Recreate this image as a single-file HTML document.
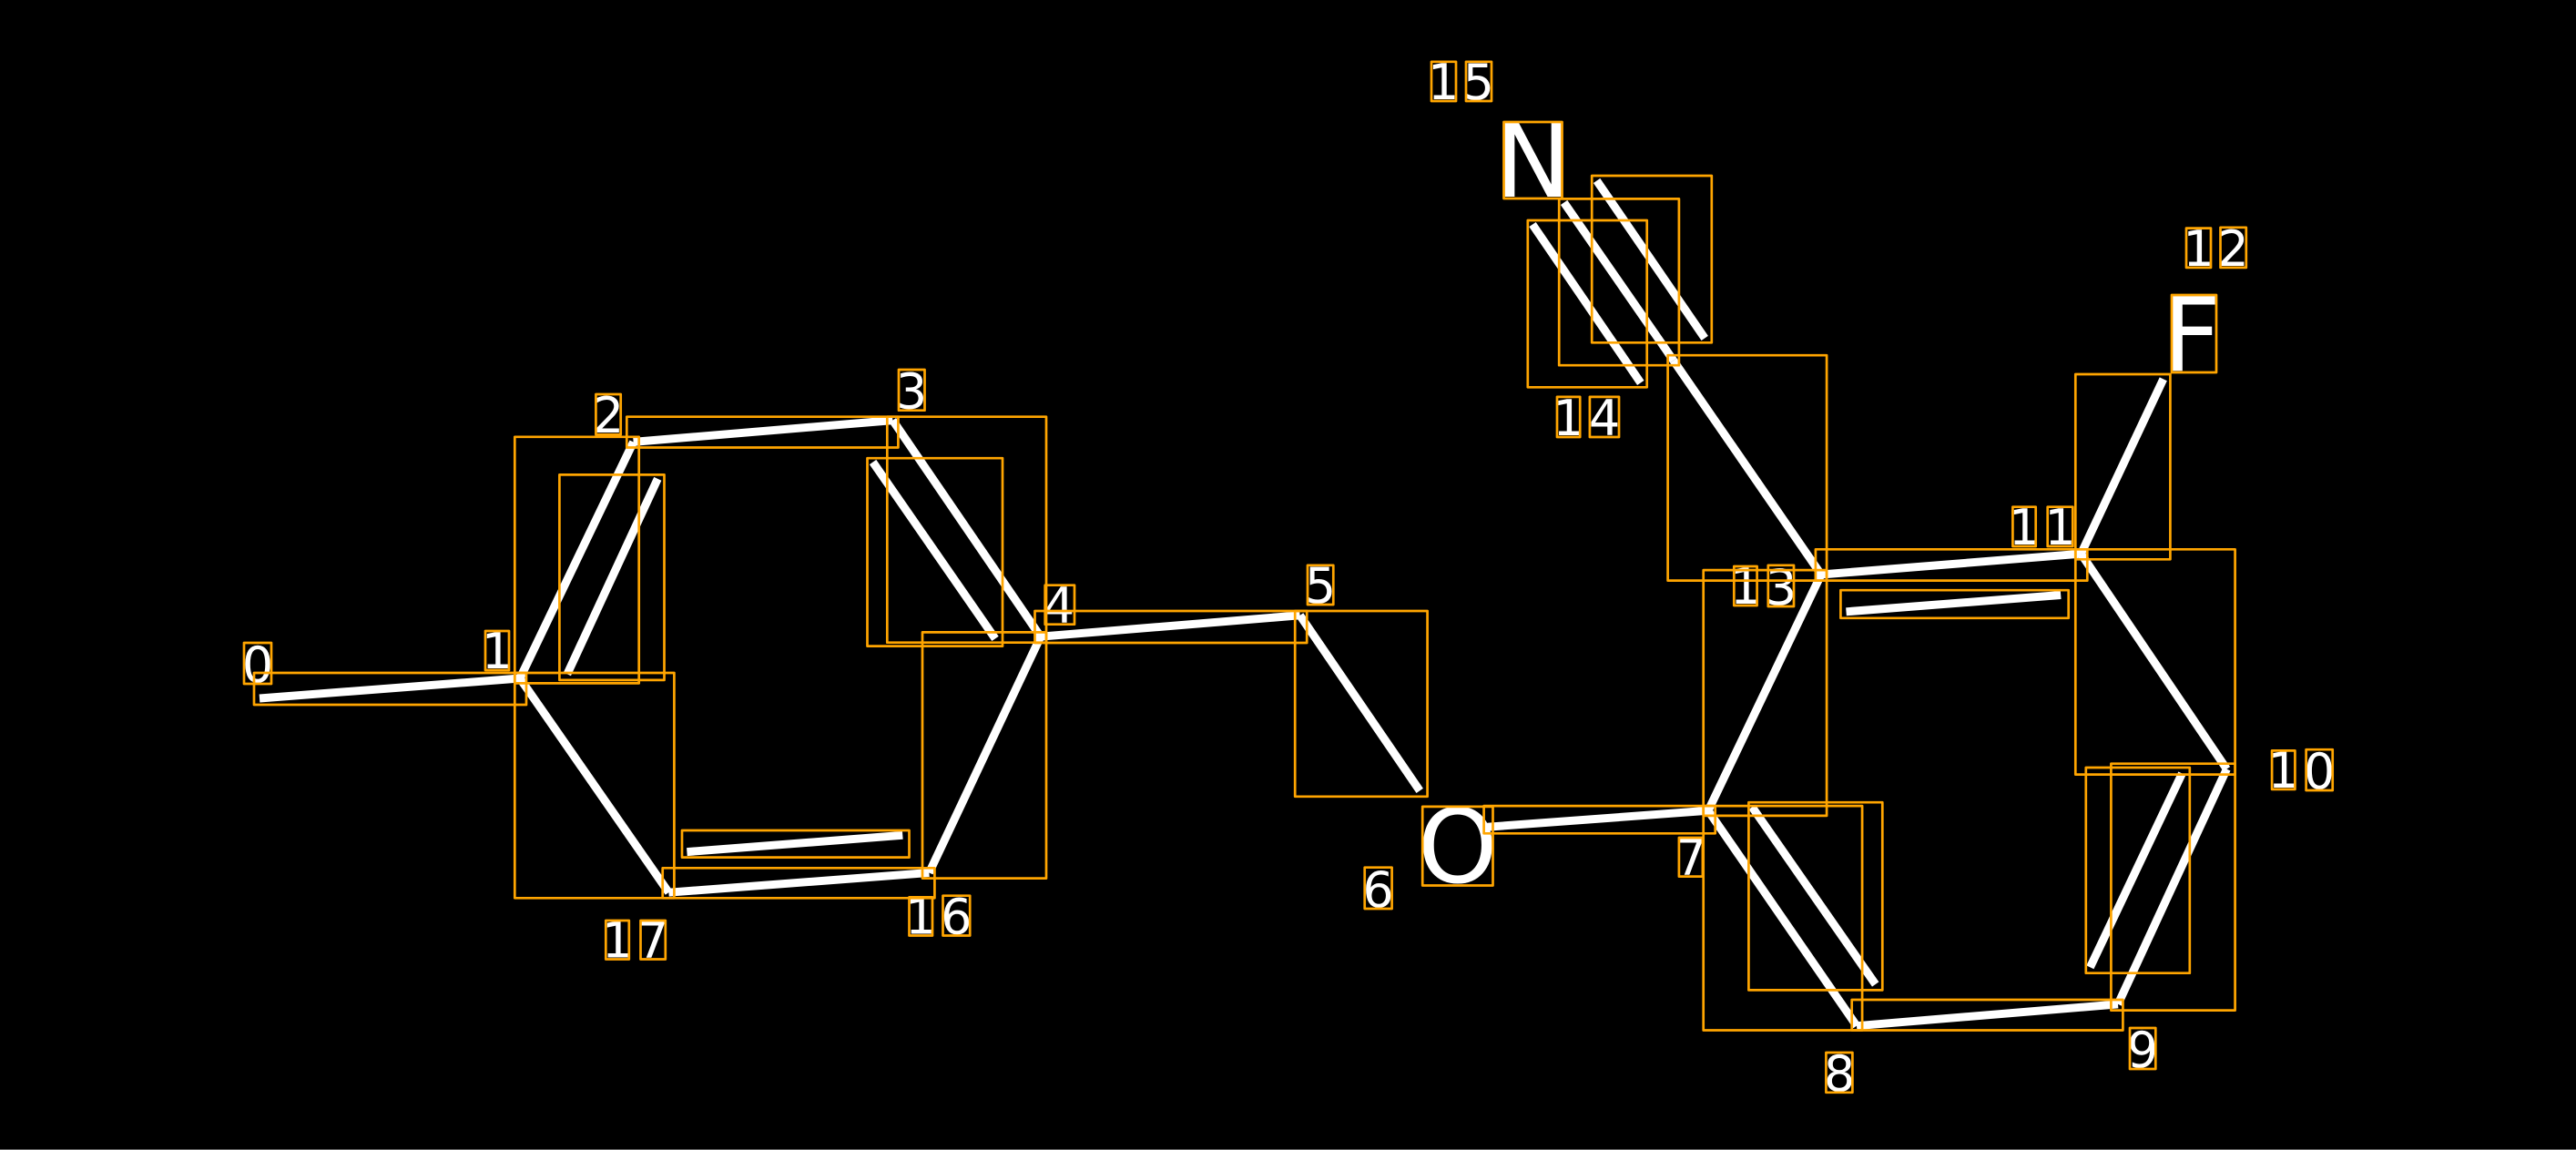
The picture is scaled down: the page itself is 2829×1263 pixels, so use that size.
<!DOCTYPE html>
<html><head><meta charset="utf-8"><style>
html,body{margin:0;padding:0;background:#000;width:2829px;height:1263px;overflow:hidden}
svg{display:block}
text{font-family:"DejaVu Sans","Liberation Sans",sans-serif;fill:#fff;text-anchor:middle}
.d{font-size:54px}.a{font-size:112px}
.b line{stroke:#fff;stroke-width:9;stroke-linecap:butt}
.r rect{fill:none;stroke:#FFA500;stroke-width:2.7;stroke-linejoin:round}
</style></head><body>
<svg xmlns="http://www.w3.org/2000/svg" width="2829" height="1263" viewBox="0 0 2829 1263">
<rect width="2829" height="1263" fill="#000"/>
<g class="b">
<line x1="285" y1="767" x2="571" y2="745"/>
<line x1="571" y1="745" x2="695.6" y2="485.4"/>
<line x1="622.9" y1="740.4" x2="722.3" y2="525.8"/>
<line x1="695.6" y1="485.4" x2="980.4" y2="461.6"/>
<line x1="980.4" y1="461.6" x2="1142.8" y2="699.2"/>
<line x1="958.6" y1="507.5" x2="1093" y2="701.4"/>
<line x1="1142.8" y1="699.2" x2="1020.4" y2="958.5"/>
<line x1="1020.4" y1="958.5" x2="734.4" y2="980.2"/>
<line x1="734.4" y1="980.2" x2="571" y2="745"/>
<line x1="754.4" y1="935.6" x2="991.3" y2="917.3"/>
<line x1="1142.8" y1="699.2" x2="1427.6" y2="675.8"/>
<line x1="1427.6" y1="675.8" x2="1559.2" y2="868.4"/>
<line x1="1633.4" y1="908.2" x2="1876" y2="890.3"/>
<line x1="1876" y1="890.3" x2="2039" y2="1126.7"/>
<line x1="1924.2" y1="886.3" x2="2059.7" y2="1081"/>
<line x1="2039" y1="1126.7" x2="2326" y2="1102.9"/>
<line x1="2326" y1="1102.9" x2="2445.4" y2="844.6"/>
<line x1="2396.4" y1="849.4" x2="2295.4" y2="1062.3"/>
<line x1="2445.4" y1="844.6" x2="2285.4" y2="608.2"/>
<line x1="2285.4" y1="608.2" x2="2375.8" y2="416.3"/>
<line x1="2285.4" y1="608.2" x2="2000" y2="631"/>
<line x1="2027.5" y1="671.8" x2="2263.2" y2="653.5"/>
<line x1="2000" y1="631" x2="1876" y2="890.3"/>
<line x1="2000" y1="631" x2="1837.8" y2="395.9"/>
<line x1="1837.8" y1="395.9" x2="1717.6" y2="222.4"/>
<line x1="1753.6" y1="198.4" x2="1872.2" y2="371.4"/>
<line x1="1683" y1="246.5" x2="1801.8" y2="420.4"/>
</g>
<g>
<text class="d" x="283" y="749">0</text>
<text class="d" x="546" y="734">1</text>
<text class="d" x="668" y="475">2</text>
<text class="d" x="1001" y="448.5">3</text>
<text class="d" x="1163" y="684">4</text>
<text class="d" x="1450" y="662">5</text>
<text class="d" x="1513.6" y="996">6</text>
<text class="d" x="1857" y="960.5">7</text>
<text class="d" x="2020" y="1198">8</text>
<text class="d" x="2353" y="1172">9</text>
<text class="d" x="2507.7" y="865">1</text>
<text class="d" x="2547.2" y="866">0</text>
<text class="d" x="2223" y="598">1</text>
<text class="d" x="2262.5" y="598">1</text>
<text class="d" x="2414.5" y="292">1</text>
<text class="d" x="2452.6" y="292">2</text>
<text class="d" x="1917" y="663">1</text>
<text class="d" x="1956" y="664">3</text>
<text class="d" x="1722.6" y="478">1</text>
<text class="d" x="1762" y="478">4</text>
<text class="d" x="1585.2" y="109">1</text>
<text class="d" x="1623.8" y="109">5</text>
<text class="d" x="1011.2" y="1025.5">1</text>
<text class="d" x="1050.3" y="1025.5">6</text>
<text class="d" x="678" y="1051.5">1</text>
<text class="d" x="717" y="1051.5">7</text>
<text class="a" x="1683.5" y="216">N</text>
<text class="a" x="2407" y="407">F</text>
<text class="a" x="1600.8" y="969">O</text>
</g>
<g class="r">
<rect x="279" y="739" width="299" height="35"/>
<rect x="565.3" y="479.8" width="136.4" height="270.6"/>
<rect x="614.4" y="521.4" width="115.1" height="225.5"/>
<rect x="688.3" y="457.7" width="298.1" height="33.8"/>
<rect x="974.3" y="457.7" width="174.7" height="248"/>
<rect x="952.5" y="503.2" width="148.5" height="206.4"/>
<rect x="1013" y="694.4" width="136" height="270.2"/>
<rect x="565.3" y="739" width="175.1" height="247.3"/>
<rect x="727.7" y="953.3" width="298.7" height="33"/>
<rect x="749" y="912" width="249.5" height="29.6"/>
<rect x="1136.5" y="671" width="298.7" height="35"/>
<rect x="1422.2" y="671" width="145.4" height="203.8"/>
<rect x="1629.6" y="885.1" width="254.1" height="30.2"/>
<rect x="1870.7" y="626.1" width="135.4" height="269.8"/>
<rect x="1870.7" y="885.1" width="174.4" height="246.4"/>
<rect x="1920.4" y="881.2" width="146.9" height="206.2"/>
<rect x="2033.7" y="1098" width="297.7" height="33.5"/>
<rect x="2318.4" y="838.7" width="136.2" height="270.9"/>
<rect x="2290.8" y="843" width="114" height="225.7"/>
<rect x="2279.3" y="603.3" width="175.3" height="247.3"/>
<rect x="2279.3" y="411" width="104.1" height="203.3"/>
<rect x="1993.9" y="603.3" width="298.4" height="34.3"/>
<rect x="2021.4" y="648.2" width="250.3" height="30.6"/>
<rect x="1831.6" y="390.2" width="174.5" height="247.4"/>
<rect x="1748.2" y="193" width="131.6" height="183.3"/>
<rect x="1712.2" y="218.4" width="131.7" height="182.8"/>
<rect x="1677.8" y="242" width="130.9" height="183.3"/>
<rect x="268" y="706" width="30" height="45"/>
<rect x="533" y="693" width="26" height="43"/>
<rect x="654.4" y="433" width="27.3" height="44.2"/>
<rect x="987" y="406" width="28.5" height="44.7"/>
<rect x="1147.7" y="642.7" width="32.3" height="43"/>
<rect x="1436" y="620.8" width="28.3" height="43.2"/>
<rect x="1498.7" y="952.7" width="29.9" height="45.3"/>
<rect x="1843.9" y="920" width="26" height="42.6"/>
<rect x="2005.4" y="1156" width="29" height="43.8"/>
<rect x="2339" y="1129" width="28.3" height="45"/>
<rect x="2495.1" y="824.4" width="25.3" height="42.5"/>
<rect x="2532.6" y="823.2" width="29.1" height="44.8"/>
<rect x="2210.4" y="556.7" width="25.3" height="43.3"/>
<rect x="2248.7" y="556.7" width="27.6" height="43.3"/>
<rect x="2401" y="250.6" width="27" height="43.3"/>
<rect x="2438.5" y="249.8" width="28.3" height="44.1"/>
<rect x="1904.3" y="622" width="25.3" height="43"/>
<rect x="1941.8" y="620.8" width="28.2" height="45.2"/>
<rect x="1710" y="435.9" width="25.2" height="44.1"/>
<rect x="1745.9" y="435.9" width="32.1" height="44.1"/>
<rect x="1572" y="67.8" width="27" height="43.2"/>
<rect x="1610" y="67.8" width="28" height="43.2"/>
<rect x="998.5" y="985.4" width="25.5" height="42.1"/>
<rect x="1035.5" y="983.7" width="29.7" height="43.8"/>
<rect x="665.3" y="1011" width="25.5" height="42.5"/>
<rect x="703.5" y="1011" width="27.3" height="42.5"/>
<rect x="1651.5" y="134" width="64" height="84"/>
<rect x="2385" y="324" width="49" height="85"/>
<rect x="1562.2" y="885.9" width="77.3" height="86.6"/>
</g>
<rect x="0" y="1262" width="2829" height="1" fill="#666"/>
</svg>
</body></html>
